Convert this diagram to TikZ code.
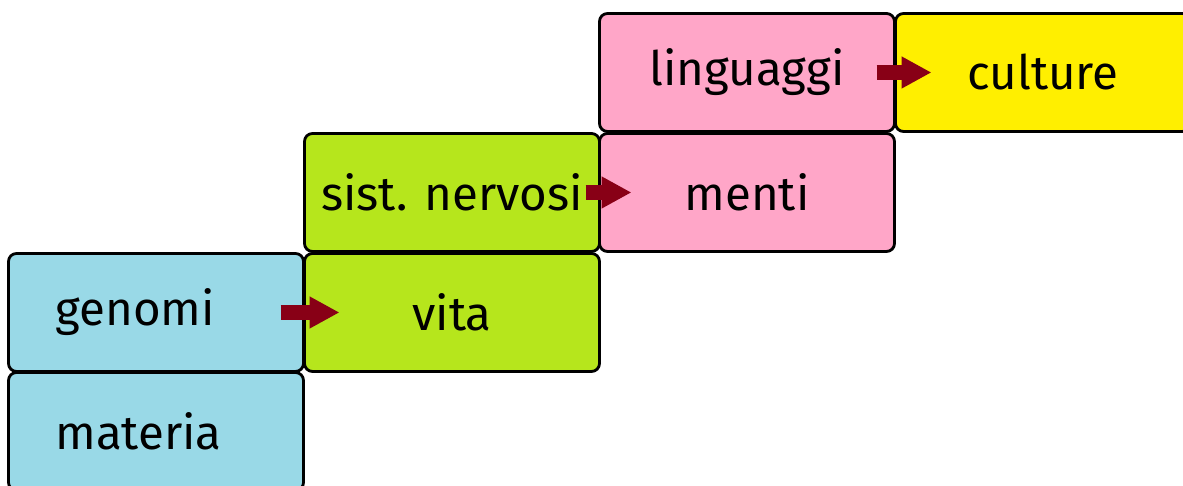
\documentclass[tikz,border=0pt]{standalone}
\usepackage{fontspec}
\setmainfont{Fira Sans}
\usepackage{tikz}
\usetikzlibrary{positioning}
\usetikzlibrary{arrows.meta}

\definecolor{boxblue}{HTML}{99D9E7}
\definecolor{boxgreen}{HTML}{B6E61C}
\definecolor{boxpink}{HTML}{FFA6C8}
\definecolor{boxyellow}{HTML}{FFEF00}
\definecolor{arrred}{HTML}{880016}

\tikzset{
	level/.style={draw=black, line width=0.8pt, rounded corners=0.08cm,
		minimum width=2.95cm, minimum height=1.18cm, inner sep=0pt, outer sep=0pt,
		font=\fontsize{13.5}{16}\selectfont},
	leftlevel/.style={level, text width=2.01cm, inner xsep=0.47cm, align=left},
	step arrow/.style={line width=1.5mm, draw=arrred,
		-{Triangle[length=3mm, width=3mm]}}
}

\begin{document}
\begin{tikzpicture}
	\clip (0,0) rectangle (11.83,4.86);
	\useasboundingbox (0,0) rectangle (11.83,4.86);

	% blue
	\node[leftlevel, fill=boxblue] (genomi) at (1.56,1.735) {genomi};
	\node[leftlevel, fill=boxblue, below=0.01cm of genomi] (materia) {materia};

	% green
	\node[level, fill=boxgreen, right=0.01cm of genomi] (vita) {vita};
	\node[level, fill=boxgreen, above=0.02cm of vita] (nervosi) {sist. nervosi};

	% pink
	\node[level, fill=boxpink, right=0cm of nervosi] (menti) {menti};
	\node[level, fill=boxpink, above=0.02cm of menti] (linguaggi) {linguaggi};

	% yellow
	\node[level, fill=boxyellow, right=0.01cm of linguaggi] (culture) {culture};

	\draw[step arrow] ([xshift=-2.3mm]genomi.east) -- ([xshift=3.5mm]vita.west);
	\draw[step arrow] ([xshift=-1.4mm]nervosi.east) -- ([xshift=3.2mm]menti.west);
	\draw[step arrow] ([xshift=-1.8mm]linguaggi.east) -- ([xshift=3.6mm]culture.west);
\end{tikzpicture}
\end{document}
